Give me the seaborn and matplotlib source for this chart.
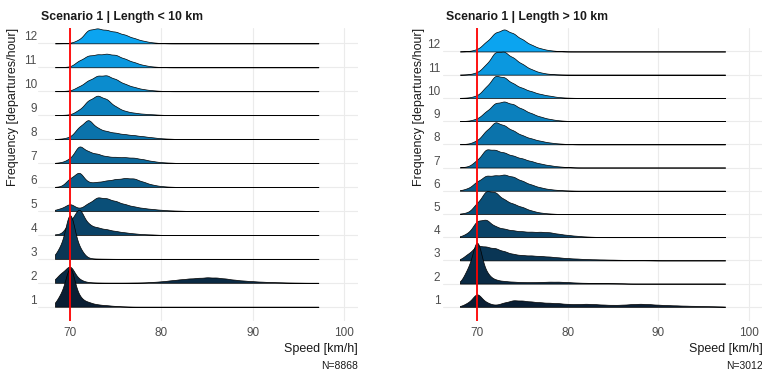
import numpy as np
import matplotlib
matplotlib.use("Agg")
import matplotlib.pyplot as plt
from matplotlib.transforms import Affine2D
from matplotlib.colors import LinearSegmentedColormap
import seaborn as sns

# speed bins (km/h); every count list below starts at 68 km/h
speed_bins = [68, 69, 70, 71, 72, 73, 74, 75, 76, 77, 78, 79, 80, 81, 82,
              83, 84, 85, 86, 87, 88, 89, 90, 91, 92, 93, 94, 95, 96, 97]
frequency = [1, 2, 3, 4, 5, 6, 7, 8, 9, 10, 11, 12]

# Scenario 1, length < 10 km (relative counts per bin)
short_1 = [0, 7.5, 29, 6, 3, 1.5, 1, 0.5, 0.2]
short_2 = [0.5, 7.7, 15, 2.6, 0.5, 0.2, 0.1, 0.1, 0.1, 0.2, 0.3, 0.7, 1.2, 2, 2.8,
           3.5, 4, 4.5, 4.3, 3.5, 2.5, 1.8, 1.3, 0.9, 0.6, 0.4, 0.2, 0.1]
short_3 = [0.2, 9, 39, 8, 0.5, 0.2, 0.1]
short_4 = [0.3, 0.5, 9, 19, 7, 5, 3.8, 2.6, 1.7, 1, 0.5, 0.3]
short_5 = [0.3, 1.8, 5.5, 1.5, 5.5, 10, 9, 7, 4.8, 3.2, 2.1, 1.4, 0.8, 0.4, 0.2]
short_6 = [0, 0.3, 6, 11, 3, 3.5, 4.5, 5.5, 6.2, 6, 3.6, 1.6, 0.6, 0.2]
short_7 = [0, 0.5, 3, 13, 8, 6.5, 4.7, 4.3, 4.1, 3.8, 2.7, 1.4, 0.6, 0.3]
short_8 = [0, 0.3, 1.5, 9, 15, 8, 5.8, 4.6, 3.6, 2.9, 2.1, 1.3, 0.6, 0.3]
short_9 = [0, 0.2, 0.5, 4, 11.5, 15.5, 12.5, 6.5, 3.2, 1.9, 1.1, 0.7, 0.3]
short_10 = [0, 0.2, 0.5, 4, 9, 13, 13.3, 10, 6, 3.5, 1.7, 0.8, 0.3]
short_11 = [0, 0.2, 0.5, 6, 10.5, 11.3, 12, 11, 7.5, 4.5, 2, 0.7, 0.2]
short_12 = [0, 0.1, 0.3, 3, 12, 13, 11.5, 10, 7.5, 4.5, 2.2, 0.8, 0.2]

# Scenario 1, length > 10 km
long_1 = [0.3, 4, 15, 4.5, 1.8, 4.5, 7, 6.5, 5.5, 4.7, 4.2, 3.8, 3, 2.8, 3.2,
          2.8, 2.3, 2, 2.2, 2.8, 3.2, 2.8, 2.2, 1.8, 1.5, 1.2, 1, 0.8, 0.6, 0.4]
long_2 = [0, 11, 37, 8, 3, 2, 1.5, 1.2, 1.1, 1.3, 1.5, 1.5, 1.2, 0.8, 0.6,
          0.5, 0.4, 0.3, 0.2]
long_3 = [0.5, 7, 17, 15, 13.5, 10, 7, 5.8, 5.4, 4.9, 4.2, 3.3, 2.5, 2, 1.5,
          1.2, 1, 0.8, 0.6, 0.4, 0.3, 0.2]
long_4 = [0.4, 3.5, 15, 16, 9.5, 7.5, 6, 5.2, 4.8, 4.8, 4.4, 3, 2, 1.2, 0.6, 0.3]
long_5 = [0.2, 1.2, 9, 20, 18.5, 12, 8.5, 5.8, 2.8, 1.1, 0.4]
long_6 = [0.3, 2.5, 10, 16.5, 16.2, 17.5, 15, 10.5, 6.5, 3.5, 1.7, 0.8, 0.3]
long_7 = [0.2, 1, 8, 21, 19.5, 16.5, 13, 10, 7, 4.3, 2.5, 1.2, 0.5]
long_8 = [0.1, 0.5, 3.5, 13, 22, 18, 13, 8.5, 5.5, 3.3, 1.7, 0.8, 0.3]
long_9 = [0, 0.3, 2.5, 10, 19, 20.5, 17.5, 12.5, 8, 4.5, 2.2, 0.8, 0.2]
long_10 = [0, 0.3, 2, 10, 21, 19, 13, 9, 6, 3.5, 2, 0.7, 0.2]
long_11 = [0, 0.3, 2, 9.5, 22, 22, 16, 10, 5, 2, 0.7, 0.2]
long_12 = [0, 0.3, 2, 9.5, 19, 22.5, 18, 12, 6.5, 3, 1.2, 0.4]

short_counts = [short_1, short_2, short_3, short_4, short_5, short_6,
                short_7, short_8, short_9, short_10, short_11, short_12]
long_counts = [long_1, long_2, long_3, long_4, long_5, long_6,
               long_7, long_8, long_9, long_10, long_11, long_12]

sns.set_theme(style="white")
plt.rcParams["font.family"] = ["Liberation Sans", "DejaVu Sans"]

fill_cmap = LinearSegmentedColormap.from_list("freq", ["#0A1E33", "#0BA4F0"])
joint_bw = 0.5


def ridges(ax, counts, span, top):
    polys = []
    for f, c in zip(frequency, counts):
        x = np.array(speed_bins[:len(c)], dtype=float)
        w = np.array(c, dtype=float)
        sd = np.sqrt(np.cov(x, aweights=w))
        n0 = len(ax.collections)
        sns.kdeplot(x=x, weights=w, bw_method=joint_bw / sd, cut=80, clip=span,
                    gridsize=700, fill=True, alpha=1, color=fill_cmap((f - 1) / 11),
                    edgecolor="black", linewidth=0.5, ax=ax)
        polys.append((f, ax.collections[n0:]))
    # common height scale, like a joint ridgeline scale
    dmax = max(p.get_paths()[0].vertices[:, 1].max() for _, ps in polys for p in ps)
    k = top / dmax
    for f, ps in polys:
        for p in ps:
            p.set_transform(Affine2D().scale(1, k).translate(0, f) + ax.transData)
            p.set_zorder(20 - f)


fig = plt.figure(figsize=(7.62, 3.71), dpi=100)
W, H = 762, 371

panels = [
    dict(counts=short_counts, span=(68.35, 97.15), top=1.82, left=38, xlim=(66.5, 101.48),
         ylim=(0.404, 12.64), title="Scenario 1 | Length < 10 km", n="N=8868",
         pad=0.8, ylab_x=13.5),
    dict(counts=long_counts, span=(68.1, 97.35), top=1.76, left=443, xlim=(66.24, 101.53),
         ylim=(0.389, 13.01), title="Scenario 1 | Length > 10 km", n="N=3012",
         pad=2.0, ylab_x=418.5),
]

for p in panels:
    ax = fig.add_axes([p["left"] / W, (H - 321) / H, 320 / W, 293 / H])
    ridges(ax, p["counts"], p["span"], p["top"])
    ax.axvline(70, color="red", lw=1.3, zorder=40)
    ax.set_xlim(*p["xlim"])
    ax.set_ylim(*p["ylim"])
    ax.set_xticks([70, 80, 90, 100])
    ax.set_yticks(frequency)
    ax.grid(True, color="#EBEBEB", lw=0.8)
    ax.set_axisbelow(True)
    for s in ax.spines.values():
        s.set_visible(False)
    ax.tick_params(axis="x", length=0, pad=4.5, labelsize=8.5, labelcolor="#4D4D4D")
    ax.tick_params(axis="y", length=0, pad=p["pad"], labelsize=8.5, labelcolor="#4D4D4D")
    for t in ax.get_yticklabels():
        t.set_va("bottom")
    ax.set_xlabel("Speed [km/h]", fontsize=9, color="#1A1A1A")
    ax.xaxis.set_label_coords(1.0, -28 / 293)
    ax.xaxis.label.set_ha("right")
    ax.xaxis.label.set_va("center")
    ax.set_ylabel("Frequency [departures/hour]", fontsize=9, color="#1A1A1A")
    ax.yaxis.set_label_coords((p["ylab_x"] - p["left"]) / 320, 1.0)
    ax.yaxis.label.set_ha("right")
    ax.yaxis.label.set_va("center")
    ax.text(3 / 320, 1 + 11 / 293, p["title"], transform=ax.transAxes, ha="left",
            va="center", fontsize=8.8, fontweight="bold", color="#1A1A1A")
    ax.text(1.0, -45 / 293, p["n"], transform=ax.transAxes, ha="right", va="center",
            fontsize=7.5, color="#1A1A1A")

fig.savefig("out.png", dpi=100)
